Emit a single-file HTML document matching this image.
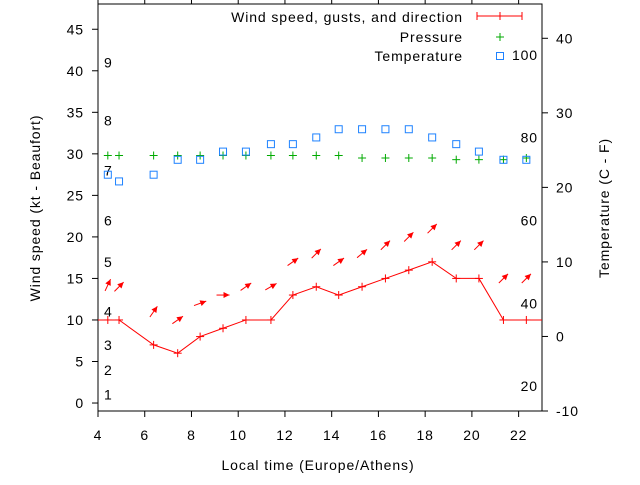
<!DOCTYPE html>
<html><head><meta charset="utf-8"><style>
html,body{margin:0;padding:0;background:#fff}
svg text{font-family:"Liberation Sans",sans-serif;font-size:14px;fill:#000;letter-spacing:0.9px}
</style></head><body>
<svg id="chart" width="640" height="480" xmlns="http://www.w3.org/2000/svg">
<g id="plot"></g>
</svg>
<script>
const times=[4.42,4.9,6.38,7.41,8.37,9.35,10.33,11.4,12.34,13.34,14.3,15.3,16.3,17.3,18.3,19.33,20.3,21.35,22.33];
const windSpeed=[10,10,7,6,8,9,10,10,13,14,13,14,15,16,17,15,15,10,10];
const gusts=[14.2,14,11,10,12,13,14,14,17,18,17,18,19,20,21,19,19,15,15];
const windDir=[205,225,215,235,250,270,235,240,235,225,235,230,225,225,225,225,225,225,225];
const pressure=[29.8,29.8,29.8,29.8,29.8,29.8,29.8,29.8,29.8,29.8,29.8,29.5,29.5,29.5,29.5,29.3,29.3,29.3,29.5];
const temperature=[21.9,21.0,21.9,23.9,23.9,25.0,25.0,26.0,26.0,26.9,28.0,28.0,28.0,28.0,26.9,26.0,25.0,23.9,23.9];
const xTicks=[4,6,8,10,12,14,16,18,20,22];
const yTicks=[0,5,10,15,20,25,30,35,40,45];
const y2Ticks=[-10,0,10,20,30,40];
const beaufort=[[1,1],[2,4],[3,7],[4,11],[5,17],[6,22],[7,28],[8,34],[9,41]];
const fahrenheit=[20,40,60,80,100];

const L=98,R=542,T=4,B=411;
const X=t=>L+(t-4)*(R-L)/19;
const Y=v=>B-(v+0.96)*(B-T)/49;
const Y2=c=>B-(c+10)*(B-T)/54.6;
const NS="http://www.w3.org/2000/svg";
const g=document.getElementById('plot');
function el(tag,attrs,parent){const e=document.createElementNS(NS,tag);for(const k in attrs)e.setAttribute(k,attrs[k]);(parent||g).appendChild(e);return e;}
function txt(x,y,s,anchor){const e=el('text',{x:x,y:y,'text-anchor':anchor||'middle'});e.textContent=s;return e;}

const border=el('rect',{x:L,y:T,width:R-L,height:B-T,fill:'none',stroke:'#000','stroke-width':1});



xTicks.forEach(t=>{
  const x=X(t);
  el('line',{x1:x,y1:B,x2:x,y2:B+6,stroke:'#000'});
  el('line',{x1:x,y1:T,x2:x,y2:T-6,stroke:'#000'});
  const lb=txt(x,440,String(t));
  
  
});
yTicks.forEach(v=>{
  const y=Y(v);
  el('line',{x1:L-6,y1:y,x2:L,y2:y,stroke:'#000'});
  const lb=txt(84,y+5,String(v),'end');
  
  
});
y2Ticks.forEach(c=>{
  const y=Y2(c);
  el('line',{x1:R,y1:y,x2:R+6,y2:y,stroke:'#000'});
  const lb=txt(556,y+5,String(c),'start');
  
  
});
beaufort.forEach(b=>{
  const lb=txt(104,Y(b[1])+5,String(b[0]),'start');
  
  
});
fahrenheit.forEach(f=>{
  const lb=txt(538,Y2((f-32)*5/9)+5,String(f),'end');
  
  
});

let a=txt(318,470,'Local time (Europe/Athens)');


a=el('text',{x:0,y:0,'text-anchor':'middle',transform:'translate(40,208) rotate(-90)'});a.textContent='Wind speed (kt - Beaufort)';


a=el('text',{x:0,y:0,'text-anchor':'middle',transform:'translate(609,208) rotate(-90)'});a.textContent='Temperature (C - F)';



let pts=[[L,Y(windSpeed[0])]].concat(times.map((t,i)=>[X(t),Y(windSpeed[i])])).concat([[R,Y(windSpeed[windSpeed.length-1])]]);
const wl=el('polyline',{points:pts.map(p=>p.join(',')).join(' '),fill:'none',stroke:'#f00','stroke-width':1});


times.forEach((t,i)=>{
  const gp=el('g',{});
  
  
  const x=X(t),y=Y(windSpeed[i]);
  el('line',{x1:x-4,y1:y,x2:x+4,y2:y,stroke:'#f00'},gp);el('line',{x1:x,y1:y-4,x2:x,y2:y+4,stroke:'#f00'},gp);
});
times.forEach((t,i)=>{
  const cx=X(t),cy=Y(gusts[i]);
  const ang=(windDir[i]+180)*Math.PI/180;
  const dx=Math.sin(ang),dy=-Math.cos(ang),len=13;
  const x1=cx-dx*len/2,y1=cy-dy*len/2,x2=cx+dx*len/2,y2=cy+dy*len/2;
  const gp=el('g',{});
  
  
  el('line',{x1:x1,y1:y1,x2:x2,y2:y2,stroke:'#f00'},gp);
  const px=-dy,py=dx,h=6,w=3;
  const bx=x2-dx*h,by=y2-dy*h;
  el('polygon',{points:`${x2},${y2} ${bx+px*w},${by+py*w} ${bx-px*w},${by-py*w}`,fill:'#f00'},gp);
});
times.forEach((t,i)=>{
  const gp=el('g',{});
  
  
  const x=X(t),y=Y(pressure[i]);
  el('line',{x1:x-4,y1:y,x2:x+4,y2:y,stroke:'#0a0'},gp);el('line',{x1:x,y1:y-4,x2:x,y2:y+4,stroke:'#0a0'},gp);
});
times.forEach((t,i)=>{
  const r=el('rect',{x:X(t)-3.5,y:Y2(temperature[i])-2,width:7,height:7,fill:'none',stroke:'#1e82ff','stroke-width':1});
  
  
});

const lg=el('g',{});


let lt=el('text',{x:463,y:22,'text-anchor':'end'},lg);lt.textContent='Wind speed, gusts, and direction';
el('line',{x1:477,y1:16,x2:522,y2:16,stroke:'#f00'},lg);
[477,500,522].forEach(x=>el('line',{x1:x,y1:12,x2:x,y2:20,stroke:'#f00'},lg));
lt=el('text',{x:463,y:42,'text-anchor':'end'},lg);lt.textContent='Pressure';
el('line',{x1:496,y1:37,x2:504,y2:37,stroke:'#0a0'},lg);el('line',{x1:500,y1:33,x2:500,y2:41,stroke:'#0a0'},lg);
lt=el('text',{x:463,y:61,'text-anchor':'end'},lg);lt.textContent='Temperature';
el('rect',{x:496.5,y:52.5,width:7,height:7,fill:'none',stroke:'#1e82ff'},lg);
</script>
</body></html>
